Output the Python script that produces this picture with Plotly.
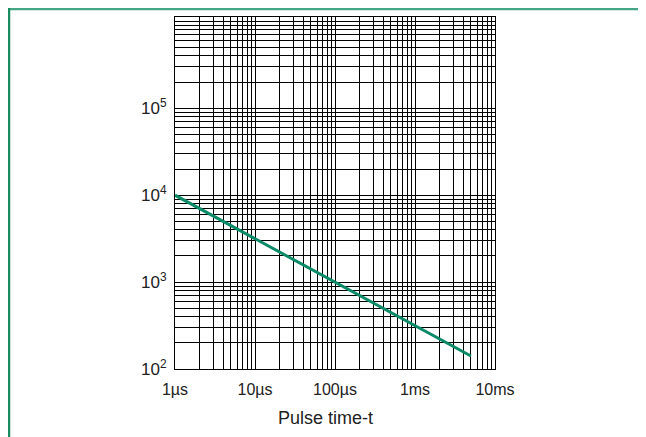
import plotly.graph_objects as go

# Data (time in microseconds)
pulse_time_us = [1, 5000]
values = [10000, 141]

x_major = [1, 10, 100, 1000, 10000]
x_major_labels = ["1µs", "10µs", "100µs", "1ms", "10ms"]
y_major = [100, 1000, 10000, 100000]
y_major_labels = ["10<sup>2</sup>", "10<sup>3</sup>", "10<sup>4</sup>", "10<sup>5</sup>"]
x_title = "Pulse time-t"

fig = go.Figure()
fig.add_trace(go.Scatter(x=pulse_time_us, y=values, mode="lines",
                         line=dict(color="#0b8a68", width=3), showlegend=False))

L, R, T, B = 167, 159, 9, 76
W, H = 646, 437
pw, ph = W - L - R, H - T - B

def px(x):  # figure px -> paper
    return (x - L) / pw

def py(y):
    return (H - B - y) / ph

fig.update_layout(
    width=W, height=H,
    margin=dict(l=L, r=R, t=T, b=B),
    paper_bgcolor="white", plot_bgcolor="white",
    font=dict(family="Liberation Sans, Arial, sans-serif", size=16, color="#222"),
    xaxis=dict(type="log", range=[0, 4], tickvals=x_major, ticktext=x_major_labels,
               showgrid=True, gridcolor="black", gridwidth=1,
               minor=dict(dtick="D1", showgrid=True, gridcolor="black", gridwidth=1, ticks=""),
               showline=True, linecolor="black", linewidth=1, mirror=True,
               ticks="", zeroline=False, tickfont=dict(size=16), ticklabelstandoff=6),
    yaxis=dict(type="log", range=[2, 6.05], tickvals=y_major, ticktext=y_major_labels,
               showgrid=True, gridcolor="black", gridwidth=1,
               minor=dict(dtick="D1", showgrid=True, gridcolor="black", gridwidth=1, ticks=""),
               showline=True, linecolor="black", linewidth=1, mirror=True,
               ticks="", zeroline=False, tickfont=dict(size=17), ticklabelstandoff=4),
    annotations=[dict(text=x_title, xref="paper", yref="paper", x=px(317), y=py(410),
                      showarrow=False, font=dict(size=18, color="#222"),
                      xanchor="center", yanchor="middle")],
    shapes=[
        dict(type="line", xref="paper", yref="paper", x0=px(1), x1=px(W), y0=py(1), y1=py(1),
             line=dict(color="#45a585", width=2.5)),
        dict(type="line", xref="paper", yref="paper", x0=px(1), x1=px(1), y0=py(0), y1=py(H),
             line=dict(color="#1a8a60", width=2.5)),
        dict(type="line", xref="paper", yref="paper", x0=px(1), x1=px(W), y0=py(H - 1), y1=py(H - 1),
             line=dict(color="#d8f0e8", width=2)),
    ],
)

fig.write_html("out.html")
